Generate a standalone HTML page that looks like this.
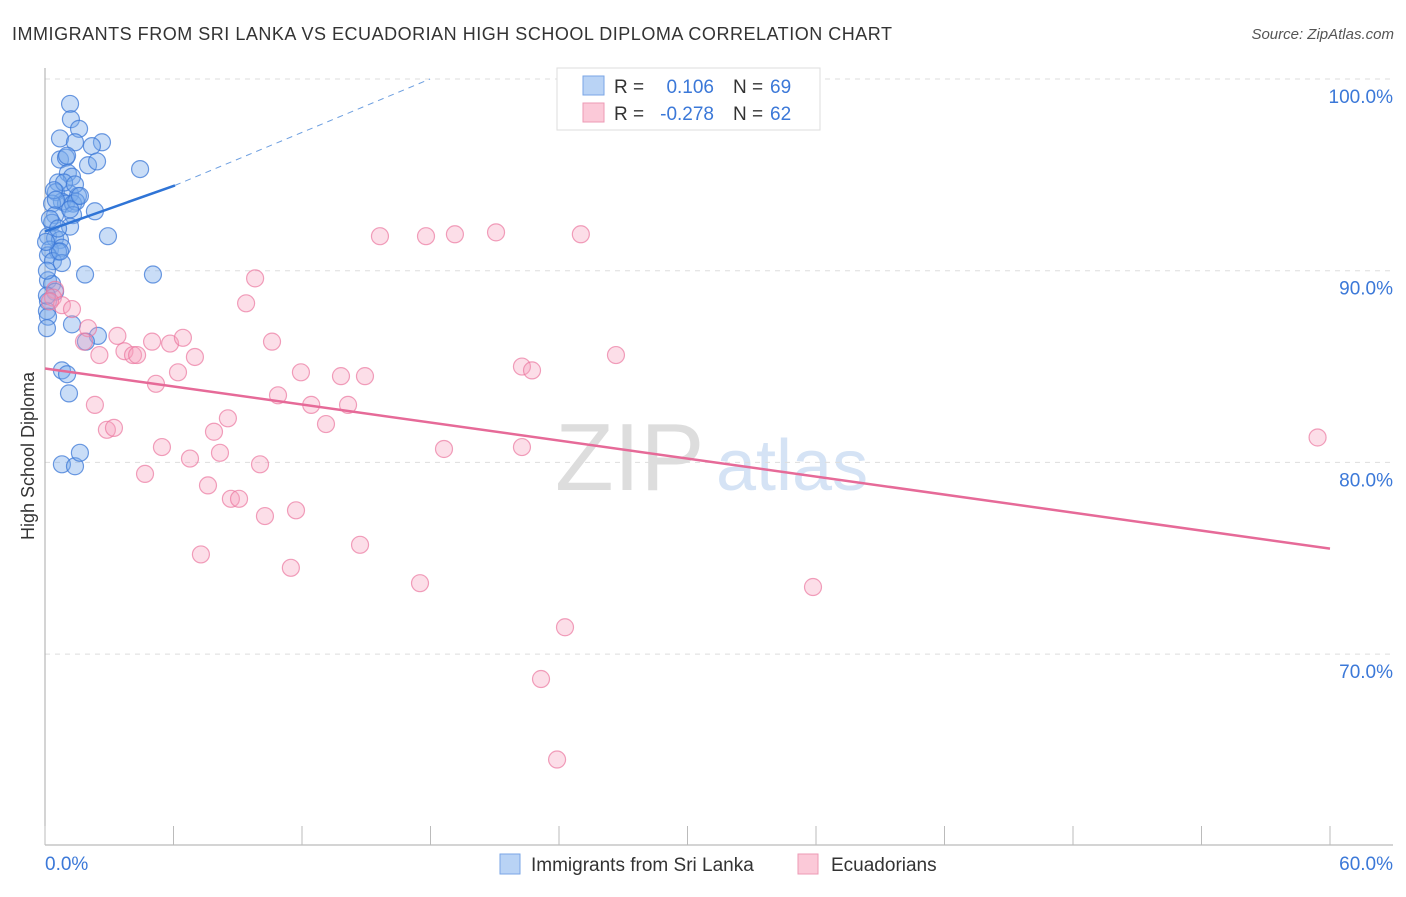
<!DOCTYPE html>
<html><head><meta charset="utf-8"><style>
body{margin:0;background:#fff;font-family:"Liberation Sans",sans-serif}
svg text{font-family:"Liberation Sans",sans-serif}
</style></head><body>
<svg id="chart" width="1406" height="892" xmlns="http://www.w3.org/2000/svg">
<text x="12" y="40" font-size="18" fill="#333" textLength="880">IMMIGRANTS FROM SRI LANKA VS ECUADORIAN HIGH SCHOOL DIPLOMA CORRELATION CHART</text>
<text x="1394" y="39" font-size="15" fill="#555" font-style="italic" text-anchor="end">Source: ZipAtlas.com</text>
<text transform="translate(34,456) rotate(-90)" font-size="18" fill="#333" text-anchor="middle">High School Diploma</text>
<g><text x="555" y="490" font-size="96" fill="#ddd" font-family="Liberation Serif,serif">ZIP</text><text x="716" y="490" font-size="72" fill="#d5e3f5">atlas</text></g>
<g id="grid"></g><g id="axes"></g><g id="pts"></g><g id="trend"></g>
<g>
<rect x="557" y="68" width="263" height="62" fill="#fff" stroke="#ddd"/>
<rect x="583" y="76" width="21" height="19" fill="#b9d3f5" stroke="#7aa6e6"/>
<rect x="583" y="103" width="21" height="19" fill="#fbc9d8" stroke="#ec9ab5"/>
<text x="614" y="93" font-size="19" fill="#333">R =</text><text x="714" y="93" font-size="19" fill="#3b78d8" text-anchor="end">0.106</text>
<text x="733" y="93" font-size="19" fill="#333">N =</text><text x="770" y="93" font-size="19" fill="#3b78d8">69</text>
<text x="614" y="120" font-size="19" fill="#333">R =</text><text x="714" y="120" font-size="19" fill="#3b78d8" text-anchor="end">-0.278</text>
<text x="733" y="120" font-size="19" fill="#333">N =</text><text x="770" y="120" font-size="19" fill="#3b78d8">62</text>
</g>
<g>
<rect x="500" y="854" width="20" height="20" fill="#b9d3f5" stroke="#7aa6e6"/>
<text x="531" y="871" font-size="19" fill="#333">Immigrants from Sri Lanka</text>
<rect x="798" y="854" width="20" height="20" fill="#fbc9d8" stroke="#ec9ab5"/>
<text x="831" y="871" font-size="19" fill="#333">Ecuadorians</text>
</g>
</svg>
<script>
const xTicks=[0,6,12,18,24,30,36,42,48,54,60];
const yTicks=[70,80,90,100];
const blueX=[1.17,1.21,1.59,0.70,1.40,2.66,2.19,0.70,0.98,2.01,1.07,1.26,4.44,0.61,0.51,1.17,1.54,0.79,0.98,1.31,1.45,2.33,0.33,0.47,1.31,0.33,1.17,0.14,0.47,0.70,2.94,0.23,0.79,0.61,0.14,0.37,0.79,1.87,5.04,0.14,0.33,0.47,0.14,0.09,0.14,0.09,1.26,2.47,1.91,0.79,1.03,1.12,0.79,1.40,1.63,0.23,0.61,0.89,1.40,1.63,0.42,0.09,0.70,0.05,1.03,2.43,0.51,1.17,0.09];
const blueY=[98.7,97.9,97.4,96.9,96.7,96.7,96.5,95.8,95.9,95.5,95.1,94.9,95.3,94.6,94.1,94.0,93.9,93.6,93.5,93.5,93.6,93.1,93.5,92.9,92.9,92.5,92.3,91.8,91.7,91.6,91.8,91.1,91.2,91.0,90.8,90.5,90.4,89.8,89.8,89.5,89.3,88.9,88.4,87.9,87.6,87.0,87.2,86.6,86.3,84.8,84.6,83.6,79.9,79.8,80.5,92.7,92.2,94.6,94.5,93.9,94.2,90.0,91.0,91.5,96.0,95.7,93.7,93.2,88.7];
const pinkX=[0.47,0.37,0.79,1.26,0.23,2.01,1.82,2.54,3.38,3.71,4.11,4.30,5.00,5.84,6.44,7.00,6.21,5.18,2.33,2.89,3.22,5.46,4.67,6.77,8.17,7.89,8.54,7.61,8.68,9.06,7.28,9.39,9.81,10.60,11.95,10.88,12.43,13.12,14.15,13.82,14.94,10.04,10.27,11.72,11.48,14.71,17.51,15.64,17.79,19.14,21.06,25.02,18.63,22.27,22.74,22.27,26.66,24.28,23.16,23.91,35.86,59.42];
const pinkY=[89.0,88.6,88.2,88.0,88.4,87.0,86.3,85.6,86.6,85.8,85.6,85.6,86.3,86.2,86.5,85.5,84.7,84.1,83.0,81.7,81.8,80.8,79.4,80.2,80.5,81.6,82.3,78.8,78.1,78.1,75.2,88.3,89.6,86.3,84.7,83.5,83.0,82.0,83.0,84.5,84.5,79.9,77.2,77.5,74.5,75.7,73.7,91.8,91.8,91.9,92.0,91.9,80.7,85.0,84.8,80.8,85.6,71.4,68.7,64.5,73.5,81.3];
const X=v=>45+v/60*1285, Y=v=>79+(100-v)*19.17;
const NS='http://www.w3.org/2000/svg';
function mk(p,t,a){const e=document.createElementNS(NS,t);for(const k in a)e.setAttribute(k,a[k]);document.getElementById(p).appendChild(e);return e;}
yTicks.forEach(v=>{
 const l=mk('grid','line',{x1:45,x2:1393,y1:Y(v),y2:Y(v),stroke:'#ddd','stroke-dasharray':'5,5'});
 
 
 const t=mk('grid','text',{x:1393,y:Y(v)+24,'font-size':19,fill:'#3b78d8','text-anchor':'end'});t.textContent=v.toFixed(1)+'%';
 
 
});
mk('axes','line',{x1:45,x2:45,y1:68,y2:845,stroke:'#aaa'});
mk('axes','line',{x1:45,x2:1393,y1:845,y2:845,stroke:'#aaa'});
xTicks.forEach(v=>{const l=mk('axes','line',{x1:X(v),x2:X(v),y1:826,y2:845,stroke:'#bbb'});
 
 });
[[0,'start'],[60,'end']].forEach(([v,a])=>{const t=mk('axes','text',{x:v==0?45:1393,y:870,'font-size':19,fill:'#3b78d8','text-anchor':a});t.textContent=v.toFixed(1)+'%';
 
 });
blueX.forEach((x,i)=>{const c=mk('pts','circle',{cx:X(x),cy:Y(blueY[i]),r:8.5,fill:'rgba(120,170,235,0.4)',stroke:'rgba(60,120,215,0.75)','stroke-width':1.2});
 
 });
pinkX.forEach((x,i)=>{const c=mk('pts','circle',{cx:X(x),cy:Y(pinkY[i]),r:8.5,fill:'rgba(245,160,190,0.35)',stroke:'rgba(235,120,160,0.7)','stroke-width':1.2});
 
 });
const b=mk('trend','line',{x1:X(0),y1:Y(92.05),x2:X(6.07),y2:Y(94.45),stroke:'#2f74d6','stroke-width':2.5});


const bd=mk('trend','line',{x1:X(6.07),y1:Y(94.45),x2:X(17.98),y2:Y(100),stroke:'#6d9fe0','stroke-width':1,'stroke-dasharray':'6,5'});


const p=mk('trend','line',{x1:X(0),y1:Y(84.9),x2:X(60),y2:Y(75.5),stroke:'#e66a98','stroke-width':2.5});


</script>
</body></html>
